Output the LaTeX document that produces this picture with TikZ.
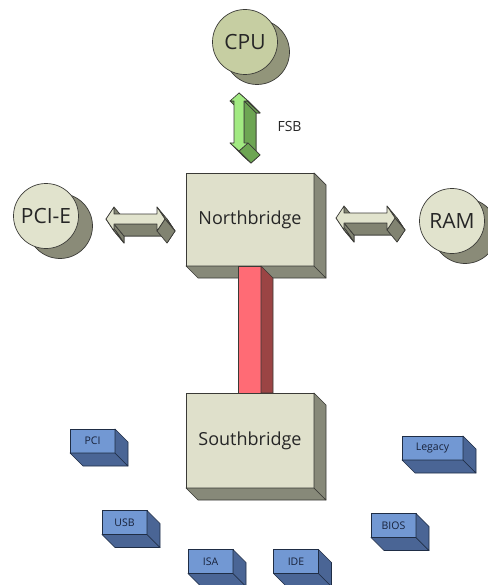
\documentclass[tikz,border=0pt]{standalone}
\usepackage{fontspec}
\setmainfont{Open Sans}
\usetikzlibrary{calc}

\definecolor{edgec}{HTML}{3A3A36}
\definecolor{chipfront}{HTML}{C6CEA2}
\definecolor{chipshade}{HTML}{92957A}
\definecolor{portfront}{HTML}{E1E3CD}
\definecolor{portshade}{HTML}{8A8B78}
\definecolor{boxfront}{HTML}{DFE0CB}
\definecolor{boxside}{HTML}{878979}
\definecolor{busfront}{HTML}{FF6B75}
\definecolor{busside}{HTML}{9B4444}
\definecolor{bluefront}{HTML}{7298D3}
\definecolor{blueside}{HTML}{4A6595}
\definecolor{blueedge}{HTML}{1F2D45}
\definecolor{bluetext}{HTML}{18223A}
\definecolor{fsblight}{HTML}{A2EA82}
\definecolor{fsbdark}{HTML}{6DA553}
\definecolor{linklight}{HTML}{E1E3CD}
\definecolor{linkdark}{HTML}{818371}
\definecolor{labelc}{HTML}{262626}

% one side face of an extruded shape, pushed back by (\dx,\dy)
\newcommand{\face}[5]{\filldraw[#5] (#1,#2) -- (#3,#4) -- (#3+\dx,#4+\dy) -- (#1+\dx,#2+\dy) -- cycle;}
% right and bottom faces of a box node
\newcommand{\extrude}[3]{%
  \filldraw[#3] (#1.south west) -- ($(#1.south west)+(#2,#2)$) -- ($(#1.south east)+(#2,#2)$) -- (#1.south east) -- cycle;
  \filldraw[#3] (#1.north east) -- ($(#1.north east)+(#2,#2)$) -- ($(#1.south east)+(#2,#2)$) -- (#1.south east) -- cycle;}

\def\hshape{(-29.5,0) -- (-21.5,-12) -- (-21.5,-5) -- (21.5,-5) -- (21.5,-12) -- (29.5,0) -- (21.5,12) -- (21.5,5) -- (-21.5,5) -- (-21.5,12) -- cycle}
\def\vshape{(0,-29) -- (9,-21) -- (5,-21) -- (5,21) -- (9,21) -- (0,29) -- (-9,21) -- (-5,21) -- (-5,-21) -- (-9,-21) -- cycle}

% horizontal double arrow, seen from above and slightly to the left
\newcommand{\hlink}[1]{%
  \begin{scope}[shift={#1}]
    \def\dx{10}\def\dy{12}
    \filldraw[linkbody, shift={(\dx,\dy)}] \hshape;
    \face{-21.5}{-12}{-21.5}{-5}{linkbody}
    \face{-21.5}{5}{-21.5}{12}{linkbody}
    \face{-21.5}{12}{-29.5}{0}{linkbody}
    \face{21.5}{5}{-21.5}{5}{linkbody}
    \face{21.5}{-12}{29.5}{0}{linkbody}
    \face{29.5}{0}{21.5}{12}{linkbody}
    \filldraw[linktop] \hshape;
  \end{scope}}

\begin{document}
\begin{tikzpicture}[x=1pt, y=-1pt, line join=round,
  edge/.style={draw=edgec, line width=0.7pt},
  chipshadow/.style={edge, fill=#1},
  chip/.style={circle, edge, fill=#1, minimum size=65pt, inner sep=0pt, outer sep=0pt,
    text=labelc, font=\fontsize{21}{24}\selectfont},
  bridge/.style={rectangle, edge, fill=boxfront, minimum width=128pt, inner sep=0pt, outer sep=0pt,
    text=labelc, font=\fontsize{18}{21}\selectfont},
  bridgeside/.style={edge, fill=boxside},
  port/.style={rectangle, draw=blueedge, line width=0.7pt, fill=bluefront, minimum width=45pt,
    minimum height=24pt, inner sep=0pt, outer sep=0pt, text=bluetext,
    font=\fontsize{10.5}{12}\selectfont},
  portside/.style={draw=blueedge, line width=0.7pt, fill=blueside},
  linkbody/.style={edge, fill=linkdark},
  linktop/.style={edge, fill=linklight},
  fsbbody/.style={edge, fill=fsbdark},
  fsbtop/.style={edge, fill=fsblight}]

\useasboundingbox (0,0) rectangle (487,585);

% processor, graphics slot and memory, each with its cast shadow
\coordinate (cpuc) at (245,42);
\coordinate (pciec) at (46,216);
\coordinate (ramc) at (452,221);
\filldraw[chipshadow=chipshade] ($(cpuc)+(12,10)$) circle[radius=32.5pt];
\filldraw[chipshadow=portshade] ($(pciec)+(14,10)$) circle[radius=32.5pt];
\filldraw[chipshadow=portshade] ($(ramc)+(13,10)$) circle[radius=32.5pt];
\node[chip=chipfront] (cpu) at (cpuc) {CPU};
\node[chip=portfront] (pcie) at (pciec) {PCI-E};
\node[chip=portfront] (ram) at (ramc) {RAM};

% front side bus
\begin{scope}[shift={(239,122)}]
  \def\dx{12}\def\dy{12}
  \filldraw[fsbbody, shift={(\dx,\dy)}] \vshape;
  \face{-5}{-21}{-9}{-21}{fsbbody}
  \face{9}{-21}{5}{-21}{fsbbody}
  \face{0}{-29}{9}{-21}{fsbbody}
  \face{5}{-21}{5}{21}{fsbbody}
  \face{0}{29}{-9}{21}{fsbbody}
  \face{9}{21}{0}{29}{fsbbody}
  \filldraw[fsbtop] \vshape;
\end{scope}
\node[text=labelc, font=\fontsize{14}{16}\selectfont, anchor=west] (fsb) at (274,127) {FSB};

% links to the graphics slot and the memory
\hlink{(135.5,219)}
\hlink{(365.5,218)}

% northbridge
\node[bridge, minimum height=93pt] (nb) at (250,219.5) {Northbridge};
\extrude{nb}{12}{bridgeside}

% internal bus between the two bridges
\node[bridge, minimum height=95pt] (sb) at (250,440.5) {Southbridge};
\filldraw[edge, fill=busfront] ($(nb.south)+(-12,0)$) rectangle ($(sb.north)+(11,0)$);
\filldraw[edge, fill=busside] ($(nb.south)+(11,0)$) -- ++(12,12) -- ($(sb.north)+(23,0)$) -- ($(sb.north)+(11,0)$) -- cycle;

% southbridge
\extrude{sb}{12}{bridgeside}

% peripheral interfaces
\node[port] (pci) at (92.5,441) {PCI};
\node[port] (usb) at (124.5,522.5) {USB};
\node[port] (isa) at (210.5,561.5) {ISA};
\node[port] (ide) at (296,561.5) {IDE};
\node[port] (bios) at (393.5,525.5) {BIOS};
\node[port, minimum width=61pt] (legacy) at (432.5,448) {Legacy};
\foreach \p in {pci,usb,isa,ide,bios,legacy}{\extrude{\p}{13}{portside}}

\end{tikzpicture}
\end{document}
